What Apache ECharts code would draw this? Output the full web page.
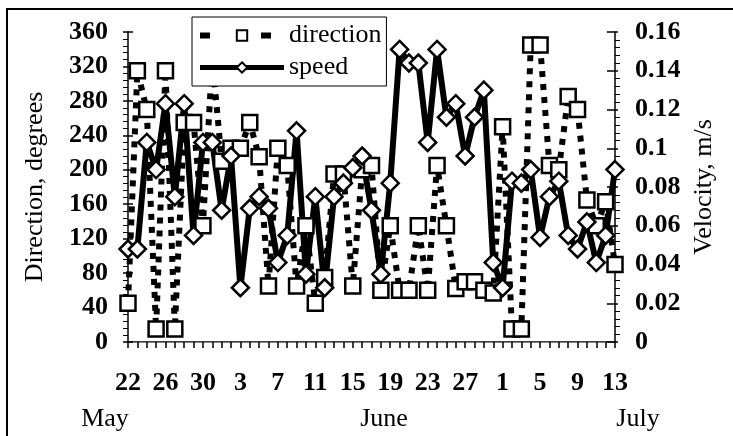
<!DOCTYPE html>
<html><head><meta charset="utf-8">
<script src="https://cdn.jsdelivr.net/npm/echarts@6/dist/echarts.min.js"></script>
<style>html,body{margin:0;padding:0;background:#fff}#c{width:733px;height:436px}</style>
</head><body><div id="c"></div>
<script>
// Day-of-month categories: 22 May .. 13 July
const days = [22,23,24,25,26,27,28,29,30,31,
  1,2,3,4,5,6,7,8,9,10,11,12,13,14,15,16,17,18,19,20,21,22,23,24,25,26,27,28,29,30,
  1,2,3,4,5,6,7,8,9,10,11,12,13];
const direction = [45,315,270,15,315,15,255,255,135,330,
  210,225,225,255,215,65,225,205,65,135,
  45,75,195,195,65,200,205,60,135,60,
  60,135,60,205,135,62,70,70,60,57,
  250,15,15,345,345,205,200,285,270,165,
  135,163,90];
const speed = [0.048,0.048,0.103,0.089,0.123,0.075,0.123,0.055,0.103,0.103,
  0.068,0.096,0.028,0.069,0.075,0.069,0.041,0.055,0.109,0.035,
  0.075,0.028,0.075,0.082,0.090,0.096,0.068,0.035,0.082,0.151,
  0.144,0.144,0.103,0.151,0.116,0.123,0.096,0.116,0.130,0.041,
  0.028,0.083,0.082,0.089,0.054,0.075,0.083,0.055,0.048,0.062,
  0.041,0.055,0.089];
const dirTicks = [0,40,80,120,160,200,240,280,320,360];
const velTicks = [0,0.02,0.04,0.06,0.08,0.1,0.12,0.14,0.16];
const months = ['May','June','July'];
const seriesNames = ['direction','speed'];
const yNames = ['Direction, degrees','Velocity, m/s'];

const FONT = '"Liberation Serif", "Times New Roman", serif';
const chart = echarts.init(document.getElementById('c'), null, {renderer:'canvas'});
const tickLbl = {fontFamily:FONT, fontWeight:'bold', fontSize:26, color:'#000'};
const blk = {color:'#000', width:1.5};

function valAxis(ticks, opts) {
  return Object.assign({
    type:'value', min:ticks[0], max:ticks[ticks.length-1], interval:ticks[1]-ticks[0],
    splitLine:{show:false}
  }, opts);
}

const option = {
  animation:false,
  backgroundColor:'#fff',
  grid:{left:128, right:118, top:32, bottom:94},
  legend:{
    orient:'vertical', left:192, top:17,
    backgroundColor:'#fff', borderColor:'#000', borderWidth:1,
    padding:[5,5,5,5], itemGap:5,
    itemWidth:84, itemHeight:13,
    textStyle:{fontFamily:FONT, fontSize:26, color:'#000', lineHeight:27},
    data:[
      {name:seriesNames[0], lineStyle:{color:'#000', width:6, type:[10,51]}},
      {name:seriesNames[1], lineStyle:{color:'#000', width:5}}
    ]
  },
  xAxis:[{
    type:'category', data:days.map(String), boundaryGap:false,
    axisLine:{lineStyle:blk},
    axisTick:{interval:0, length:6, lineStyle:blk},
    axisLabel:Object.assign({interval:3, margin:28}, tickLbl),
    splitLine:{show:false}
  },{
    type:'category', data:days.map(String), boundaryGap:false, position:'top',
    axisLine:{lineStyle:{color:'#808080', width:1}},
    axisTick:{show:false}, axisLabel:{show:false}
  }],
  yAxis:[
    valAxis(dirTicks, {
      position:'left',
      axisLine:{show:true, lineStyle:blk},
      axisTick:{show:true, length:5, lineStyle:blk},
      minorTick:{show:true, splitNumber:5, length:5, lineStyle:{color:'#000', width:1}},
      axisLabel:Object.assign({margin:20}, tickLbl),
      name:yNames[0], nameLocation:'middle', nameGap:80,
      nameTextStyle:{fontFamily:FONT, fontSize:26, color:'#000'}
    }),
    valAxis(velTicks, {
      position:'right',
      axisLine:{show:true, lineStyle:blk},
      axisTick:{show:true, length:3, lineStyle:blk},
      minorTick:{show:true, splitNumber:5, length:5, lineStyle:{color:'#000', width:1}},
      axisLabel:Object.assign({margin:20}, tickLbl),
      name:yNames[1], nameLocation:'middle', nameGap:76,
      nameTextStyle:{fontFamily:FONT, fontSize:26, color:'#000'}
    }),
    valAxis(dirTicks, {
      position:'left', axisLine:{show:false},
      axisTick:{show:true, inside:true, length:5, lineStyle:blk},
      axisLabel:{show:false}
    }),
    valAxis(velTicks, {
      position:'right', axisLine:{show:false},
      axisTick:{show:true, inside:true, length:8, lineStyle:blk},
      axisLabel:{show:false}
    })
  ],
  series:[{
    name:seriesNames[0], type:'line', data:direction, yAxisIndex:0,
    symbol:'rect', symbolSize:15, showAllSymbol:true,
    lineStyle:{color:'#000', width:6, type:[6,7]},
    itemStyle:{color:'#fff', borderColor:'#000', borderWidth:2.5},
    emphasis:{disabled:true}
  },{
    name:seriesNames[1], type:'line', data:speed, yAxisIndex:1,
    symbol:'diamond', symbolSize:17, showAllSymbol:true,
    lineStyle:{color:'#000', width:6},
    itemStyle:{color:'#fff', borderColor:'#000', borderWidth:2.5},
    emphasis:{disabled:true}
  }],
  graphic:[
    {type:'rect', silent:true, z:-10, shape:{x:7, y:9, width:760, height:470},
     style:{fill:'transparent', stroke:'#000', lineWidth:2}},
    {type:'text', silent:true, x:105, y:419, style:{text:months[0], fontFamily:FONT, fontSize:26, fill:'#000', align:'center', verticalAlign:'middle'}},
    {type:'text', silent:true, x:384, y:419, style:{text:months[1], fontFamily:FONT, fontSize:26, fill:'#000', align:'center', verticalAlign:'middle'}},
    {type:'text', silent:true, x:638, y:419, style:{text:months[2], fontFamily:FONT, fontSize:26, fill:'#000', align:'center', verticalAlign:'middle'}}
  ]
};
chart.setOption(option);
</script></body></html>
